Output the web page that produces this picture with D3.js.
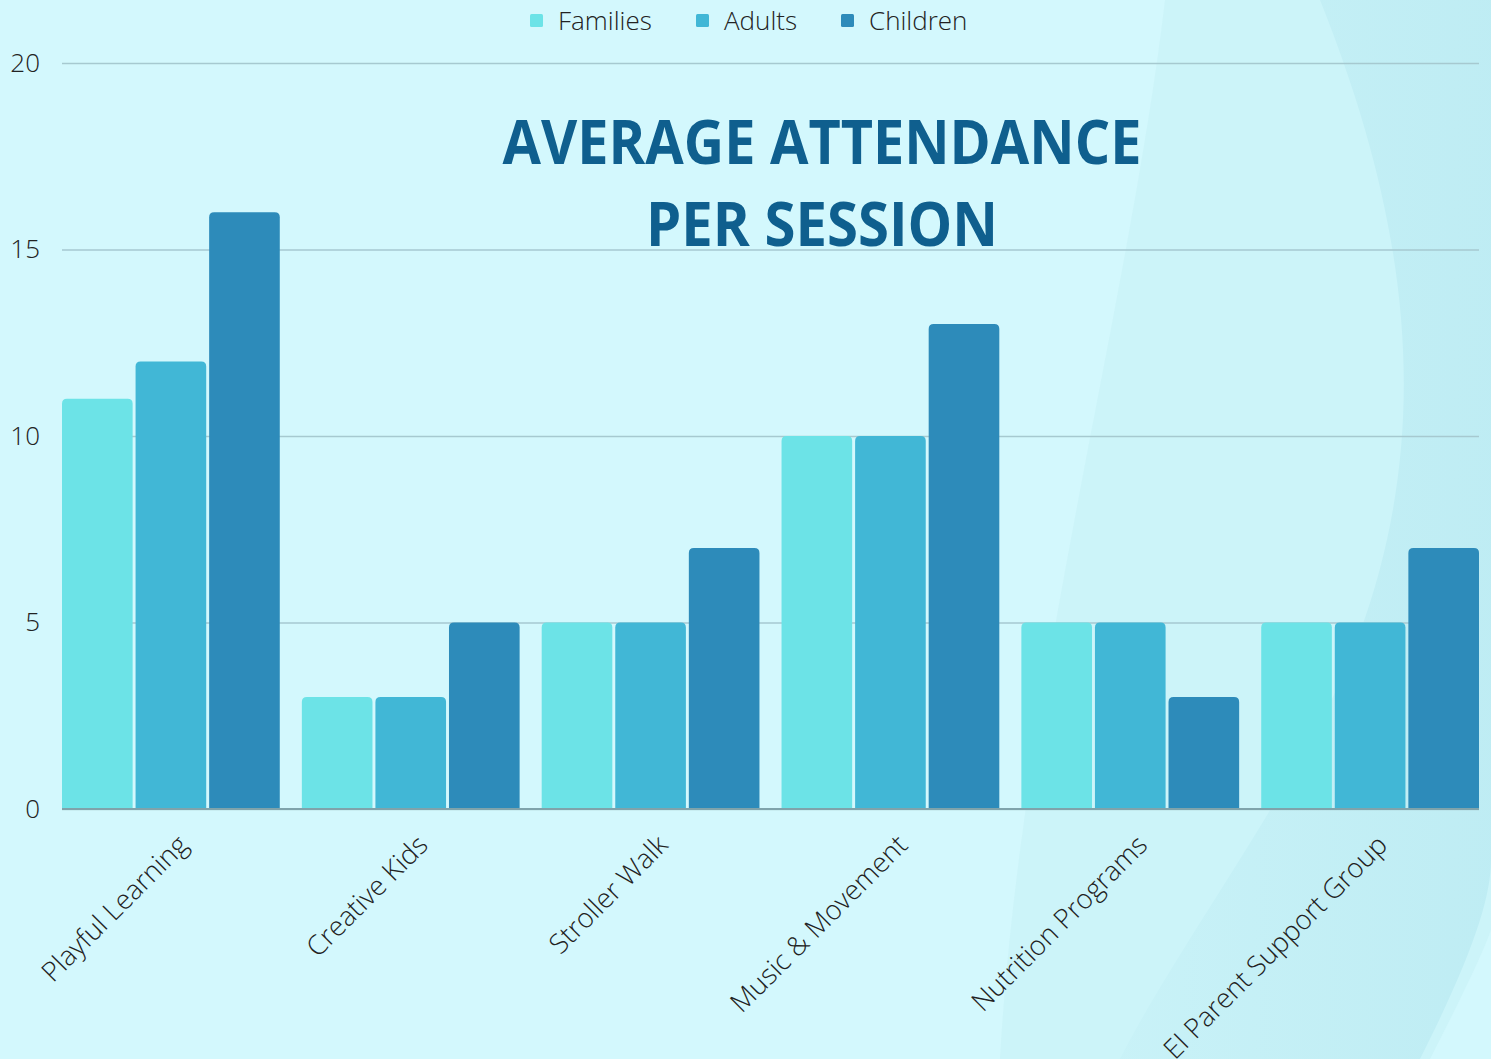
<!DOCTYPE html>
<html>
<head>
<meta charset="utf-8">
<script src="https://cdn.jsdelivr.net/npm/d3@7"></script>
<style>
  html, body { margin: 0; padding: 0; background: #d3f8fd; }
  svg { display: block; }
</style>
</head>
<body>
<div id="chart"></div>
<script>
var categories = ["Playful Learning", "Creative Kids", "Stroller Walk", "Music & Movement", "Nutrition Programs", "EI Parent Support Group"];
var seriesNames = ["Families", "Adults", "Children"];
var families = [11, 3, 5, 10, 5, 5];
var adults = [12, 3, 5, 10, 5, 5];
var children = [16, 5, 7, 13, 3, 7];
var yTicks = [0, 5, 10, 15, 20];
var colors = ["#6ce3e7", "#41b7d6", "#2d8bba"];

var width = 1491, height = 1059;
var margin = {top: 63, right: 12, bottom: 250, left: 62};
var innerW = width - margin.left - margin.right,
    innerH = height - margin.top - margin.bottom;

var svg = d3.select("#chart").append("svg")
    .attr("width", width)
    .attr("height", height);

// Background with soft waves on the right
var defs = svg.append("defs");
var grad = defs.append("linearGradient")
    .attr("id", "wave")
    .attr("x1", "0").attr("y1", "0").attr("x2", "1").attr("y2", "0");
grad.append("stop").attr("offset", "0").attr("stop-color", "#c6f0f6").attr("stop-opacity", 0.9);
grad.append("stop").attr("offset", "1").attr("stop-color", "#b3e6ef").attr("stop-opacity", 0.9);

svg.append("rect")
    .attr("width", width)
    .attr("height", height)
    .attr("fill", "#d3f8fd");

svg.append("path")
    .attr("d", "M1165,0 C1130,300 1020,700 1000,1059 L1491,1059 L1491,0 Z")
    .attr("fill", "#cbf2f8")
    .attr("opacity", 0.8);
svg.append("path")
    .attr("d", "M1320,0 C1420,250 1450,500 1300,760 C1230,880 1160,980 1120,1059 L1420,1059 C1470,960 1491,900 1491,860 L1491,0 Z")
    .attr("fill", "url(#wave)")
    .attr("opacity", 0.6);
svg.append("path")
    .attr("d", "M1430,1059 C1460,1000 1480,960 1491,930 L1491,1059 Z")
    .attr("fill", "#d3f8fd");

var g = svg.append("g")
    .attr("transform", "translate(" + margin.left + "," + margin.top + ")");

var x0 = d3.scaleBand()
    .domain(categories)
    .range([0, innerW])
    .paddingInner(0.092)
    .paddingOuter(0);

var x1 = d3.scaleBand()
    .domain(seriesNames)
    .range([0, x0.bandwidth()])
    .paddingInner(0.04);

var y = d3.scaleLinear()
    .domain([0, 20])
    .range([innerH, 0]);

// Grid
var yAxis = g.append("g")
    .attr("class", "y-axis")
    .call(d3.axisLeft(y).tickValues(yTicks).tickSize(-innerW).tickPadding(22));
yAxis.select(".domain").remove();
yAxis.selectAll(".tick line")
    .attr("stroke", "#a6c9d0")
    .attr("stroke-width", 1.3);
yAxis.selectAll(".tick text")
    .attr("fill", "#222")
    .style("font-family", "'Open Sans', sans-serif")
    .style("font-weight", 300)
    .style("font-size", "26px");

// Bars
var rows = categories.map(function(c, i) {
  return [
    {cat: c, key: "Families", value: families[i]},
    {cat: c, key: "Adults", value: adults[i]},
    {cat: c, key: "Children", value: children[i]}
  ];
});

var color = d3.scaleOrdinal().domain(seriesNames).range(colors);

function barPath(d) {
  var bx = x1(d.key), bw = x1.bandwidth();
  var top = y(d.value), bottom = y(0), r = 5;
  return "M" + bx + "," + bottom +
    "L" + bx + "," + (top + r) +
    "Q" + bx + "," + top + " " + (bx + r) + "," + top +
    "L" + (bx + bw - r) + "," + top +
    "Q" + (bx + bw) + "," + top + " " + (bx + bw) + "," + (top + r) +
    "L" + (bx + bw) + "," + bottom + "Z";
}

var group = g.selectAll(".group")
    .data(rows)
  .enter().append("g")
    .attr("class", "group")
    .attr("transform", function(d, i) { return "translate(" + x0(categories[i]) + ",0)"; });

group.selectAll("path")
    .data(function(d) { return d; })
  .enter().append("path")
    .attr("d", barPath)
    .attr("fill", function(d) { return color(d.key); });

// Baseline
g.append("line")
    .attr("x1", 0)
    .attr("x2", innerW)
    .attr("y1", y(0))
    .attr("y2", y(0))
    .attr("stroke", "#7fa3ab")
    .attr("stroke-width", 2);

// Category labels
g.selectAll(".cat-label")
    .data(categories)
  .enter().append("text")
    .attr("class", "cat-label")
    .attr("transform", function(d) {
      return "translate(" + (x0(d) + x0.bandwidth() / 2 + 12) + "," + (innerH + 31) + ") rotate(-45)";
    })
    .attr("text-anchor", "end")
    .attr("dy", "0.35em")
    .attr("fill", "#222")
    .style("font-family", "'Open Sans', sans-serif")
    .style("font-weight", 300)
    .style("font-size", "27.3px")
    .text(function(d) { return d; });

// Legend
var legendX = [530, 696, 841];
var legend = svg.selectAll(".legend")
    .data(seriesNames)
  .enter().append("g")
    .attr("class", "legend")
    .attr("transform", function(d, i) { return "translate(" + legendX[i] + ",14)"; });
legend.append("rect")
    .attr("width", 13)
    .attr("height", 13)
    .attr("rx", 1.5)
    .attr("fill", function(d) { return color(d); });
legend.append("text")
    .attr("x", 28)
    .attr("y", 7)
    .attr("dy", "0.35em")
    .attr("fill", "#222")
    .style("font-family", "'Open Sans', sans-serif")
    .style("font-weight", 300)
    .style("font-size", "26px")
    .text(function(d) { return d; });

// Title
var titleLines = ["AVERAGE ATTENDANCE", "PER SESSION"];
var titleWidths = [639, 352];
svg.selectAll(".title")
    .data(titleLines)
  .enter().append("text")
    .attr("class", "title")
    .attr("x", 822)
    .attr("y", function(d, i) { return 164 + i * 82; })
    .attr("text-anchor", "middle")
    .attr("fill", "#0f5f8e")
    .attr("textLength", function(d, i) { return titleWidths[i]; })
    .attr("lengthAdjust", "spacingAndGlyphs")
    .style("font-family", "'Open Sans', sans-serif")
    .style("font-weight", 700)
    .style("font-size", "60px")
    .text(function(d) { return d; });
</script>
</body>
</html>
